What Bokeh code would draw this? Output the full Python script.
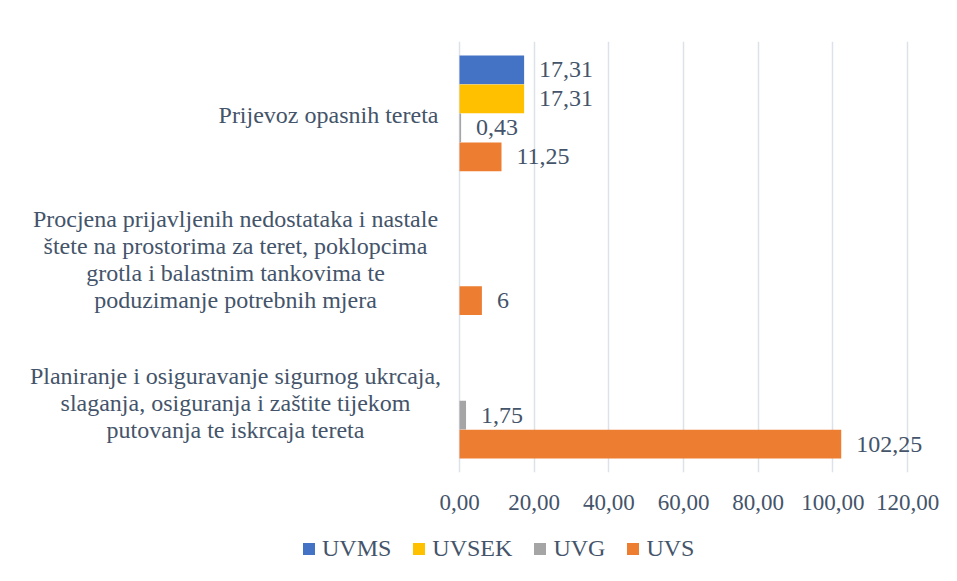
from bokeh.plotting import figure
from bokeh.layouts import column
from bokeh.models import (ColumnDataSource, FactorRange, Range1d, LabelSet, Legend, LegendItem,
                          FixedTicker, CustomJSTickFormatter)
from bokeh.transform import dodge
from bokeh.embed import file_html
from bokeh.resources import INLINE

categories = [
    "Planiranje i osiguravanje sigurnog ukrcaja,\nslaganja, osiguranja i zaštite tijekom\nputovanja te iskrcaja tereta",
    "Procjena prijavljenih nedostataka i nastale\nštete na prostorima za teret, poklopcima\ngrotla i balastnim tankovima te\npoduzimanje potrebnih mjera",
    "Prijevoz opasnih tereta",
]
cat_keys = ["c1", "c2", "c3"]
series_names = ["UVMS", "UVSEK", "UVG", "UVS"]
uvms = [None, None, 17.31]
uvsek = [None, None, 17.31]
uvg = [1.75, None, 0.43]
uvs = [102.25, 6, 11.25]
x_ticks = [0, 20, 40, 60, 80, 100, 120]

# styling
colors = ["#4472C4", "#FFC000", "#A5A5A5", "#ED7D31"]
offsets = [0.303, 0.101, -0.101, -0.303]
cat_label_center_offset = [-224, -224, -131]   # px left of the zero line, centre of each label block
LINE_H = 27
TEXT = "#44546A"
FONT = "Liberation Serif"
FS = "24px"
FS_TICK = "23px"

W = 957
H_MAIN, H_LEG = 520, 61
frame_left_px, frame_right_px = 459, 907   # pixel positions of 0 and 120
ppu = (frame_right_px - frame_left_px) / 120.0
xr = Range1d(-frame_left_px / ppu, (W - frame_left_px) / ppu)

p = figure(width=W, height=H_MAIN, output_backend="svg", toolbar_location=None,
           y_range=FactorRange(factors=cat_keys), x_range=xr,
           min_border_left=0, min_border_right=0, min_border_top=41,
           min_border_bottom=H_MAIN - 472)
p.outline_line_color = None
p.ygrid.visible = False
p.yaxis.visible = False
p.xgrid.grid_line_color = "#DCE1EA"
p.xgrid.grid_line_width = 1.5

ax = p.xaxis[0]
ax.ticker = FixedTicker(ticks=x_ticks)
ax.formatter = CustomJSTickFormatter(code="return tick.toFixed(2).replace('.', ',');")
ax.axis_line_color = None
ax.major_tick_line_color = None
ax.minor_tick_line_color = None
ax.major_label_text_font = FONT
ax.major_label_text_font_size = FS_TICK
ax.major_label_text_color = TEXT
ax.major_label_standoff = 16

for name, vals, col, off in zip(series_names, [uvms, uvsek, uvg, uvs], colors, offsets):
    cats = [c for c, v in zip(cat_keys, vals) if v is not None]
    vv = [v for v in vals if v is not None]
    labs = [("%g" % v).replace(".", ",") for v in vv]
    src = ColumnDataSource(dict(cat=cats, val=vv, label=labs))
    p.hbar(y=dodge("cat", off, range=p.y_range), left=0, right="val", height=0.2,
           fill_color=col, line_color=None, source=src)
    p.add_layout(LabelSet(x="val", y=dodge("cat", off, range=p.y_range), text="label", source=src,
                          x_offset=15, text_baseline="middle", text_align="left",
                          text_font=FONT, text_font_size=FS, text_color=TEXT))

# category labels: one entry per line, each line centred within its block
rows = dict(cat=[], x=[], line=[], xo=[], yo=[])
for key, txt, xo in zip(cat_keys, categories, cat_label_center_offset):
    lines = txt.split("\n")
    n = len(lines)
    for i, ln in enumerate(lines):
        rows["cat"].append(key)
        rows["x"].append(0)
        rows["line"].append(ln)
        rows["xo"].append(xo)
        rows["yo"].append(((n - 1) / 2.0 - i) * LINE_H - 2)
p.add_layout(LabelSet(x="x", y="cat", text="line", source=ColumnDataSource(rows),
                      x_offset="xo", y_offset="yo",
                      text_align="center", text_baseline="middle",
                      text_font=FONT, text_font_size=FS, text_color=TEXT))

# legend strip
lf = figure(width=W, height=H_LEG, output_backend="svg", toolbar_location=None,
            x_range=Range1d(0, 1), y_range=Range1d(0, 1),
            min_border_left=0, min_border_right=0, min_border_top=0, min_border_bottom=0)
lf.axis.visible = False
lf.grid.visible = False
lf.outline_line_color = None
items = []
for name, col in zip(series_names, colors):
    r = lf.hbar(y=[float("nan")], right=[float("nan")], left=[0], height=0.1,
                fill_color=col, line_color=None)
    items.append(LegendItem(label=name, renderers=[r]))
legend = Legend(items=items, orientation="horizontal", location=(301, 19),
                glyph_width=15, glyph_height=15, label_standoff=6, spacing=20,
                label_text_font=FONT, label_text_font_size=FS, label_text_color=TEXT,
                border_line_color=None, background_fill_alpha=0, margin=0, padding=0)
lf.add_layout(legend, "center")

layout = column(p, lf, spacing=0)
open("out.html", "w").write(file_html(layout, INLINE))
